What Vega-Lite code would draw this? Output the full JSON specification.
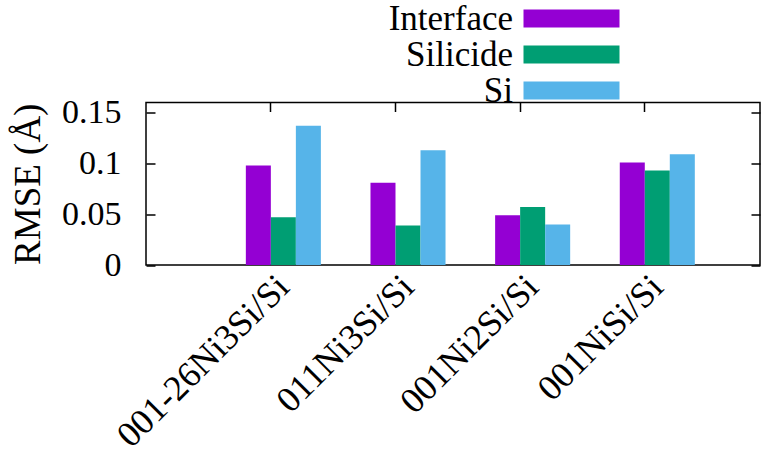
{
  "$schema": "https://vega.github.io/schema/vega-lite/v6.json",
  "autosize": {"type": "none"},
  "padding": {"left": 146, "top": 102.5, "right": 1, "bottom": 190},
  "width": 614,
  "height": 162.5,
  "background": "white",
  "config": {
    "font": "Liberation Serif",
    "view": {"stroke": "black", "strokeWidth": 1.5},
    "axis": {"labelFont": "Liberation Serif", "titleFont": "Liberation Serif", "labelFontSize": 34, "titleFontSize": 37, "titleFontWeight": "normal", "labelColor": "black", "titleColor": "black", "tickColor": "black", "tickWidth": 1.5, "domain": false, "grid": false},
    "legend": {"labelFont": "Liberation Serif", "labelFontSize": 35, "labelColor": "black"}
  },
  "data": {
    "values": [
      {"system": "001-26Ni3Si/Si", "region": "Interface", "rmse": 0.098},
      {"system": "001-26Ni3Si/Si", "region": "Silicide", "rmse": 0.047},
      {"system": "001-26Ni3Si/Si", "region": "Si", "rmse": 0.137},
      {"system": "011Ni3Si/Si", "region": "Interface", "rmse": 0.081},
      {"system": "011Ni3Si/Si", "region": "Silicide", "rmse": 0.039},
      {"system": "011Ni3Si/Si", "region": "Si", "rmse": 0.113},
      {"system": "001Ni2Si/Si", "region": "Interface", "rmse": 0.049},
      {"system": "001Ni2Si/Si", "region": "Silicide", "rmse": 0.057},
      {"system": "001Ni2Si/Si", "region": "Si", "rmse": 0.040},
      {"system": "001NiSi/Si", "region": "Interface", "rmse": 0.101},
      {"system": "001NiSi/Si", "region": "Silicide", "rmse": 0.093},
      {"system": "001NiSi/Si", "region": "Si", "rmse": 0.109}
    ]
  },
  "layer": [
    {
      "mark": {"type": "bar"},
      "encoding": {
        "x": {
          "field": "system", "type": "nominal", "sort": null,
          "scale": {"paddingInner": 0.398, "paddingOuter": 0.662, "align": 0.605},
          "axis": {"orient": "bottom", "title": null, "ticks": false, "bandPosition": 0.333, "labelAngle": -45, "labelAlign": "right", "labelBaseline": "middle", "labelPadding": 16, "labelLimit": 400, "labelFontSize": 36}
        },
        "xOffset": {
          "field": "region", "type": "nominal", "sort": ["Interface", "Silicide", "Si"],
          "scale": {"paddingInner": 0, "paddingOuter": 0}
        },
        "y": {
          "field": "rmse", "type": "quantitative",
          "scale": {"domain": [0, 0.16], "nice": false, "zero": true},
          "axis": {"orient": "left", "title": "RMSE (Å)", "values": [0, 0.05, 0.1, 0.15], "format": "~g", "tickSize": -9, "labelPadding": 34, "titlePadding": 14}
        },
        "color": {
          "field": "region", "type": "nominal",
          "sort": ["Interface", "Silicide", "Si"],
          "scale": {"domain": ["Interface", "Silicide", "Si"], "range": ["#9400d3", "#009e73", "#56b4e9"]},
          "legend": {
            "orient": "none", "legendX": 408, "legendY": -101.5, "direction": "vertical", "title": null,
            "symbolType": "M-5.333,-1H5.333V1H-5.333Z", "symbolSize": 324, "symbolStrokeWidth": 0, "symbolOpacity": 1,
            "labelAlign": "right", "labelOffset": -76, "rowPadding": 0, "labelLimit": 300
          }
        }
      }
    },
    {
      "mark": {"type": "bar", "opacity": 0},
      "encoding": {
        "x": {
          "field": "system", "type": "nominal", "sort": null,
          "axis": {"orient": "top", "title": null, "labels": false, "tickSize": -9, "bandPosition": 0.333}
        },
        "y": {
          "field": "rmse", "type": "quantitative",
          "axis": {"orient": "right", "title": null, "labels": false, "values": [0, 0.05, 0.1, 0.15], "tickSize": -9}
        }
      }
    }
  ],
  "resolve": {"axis": {"x": "independent", "y": "independent"}}
}
